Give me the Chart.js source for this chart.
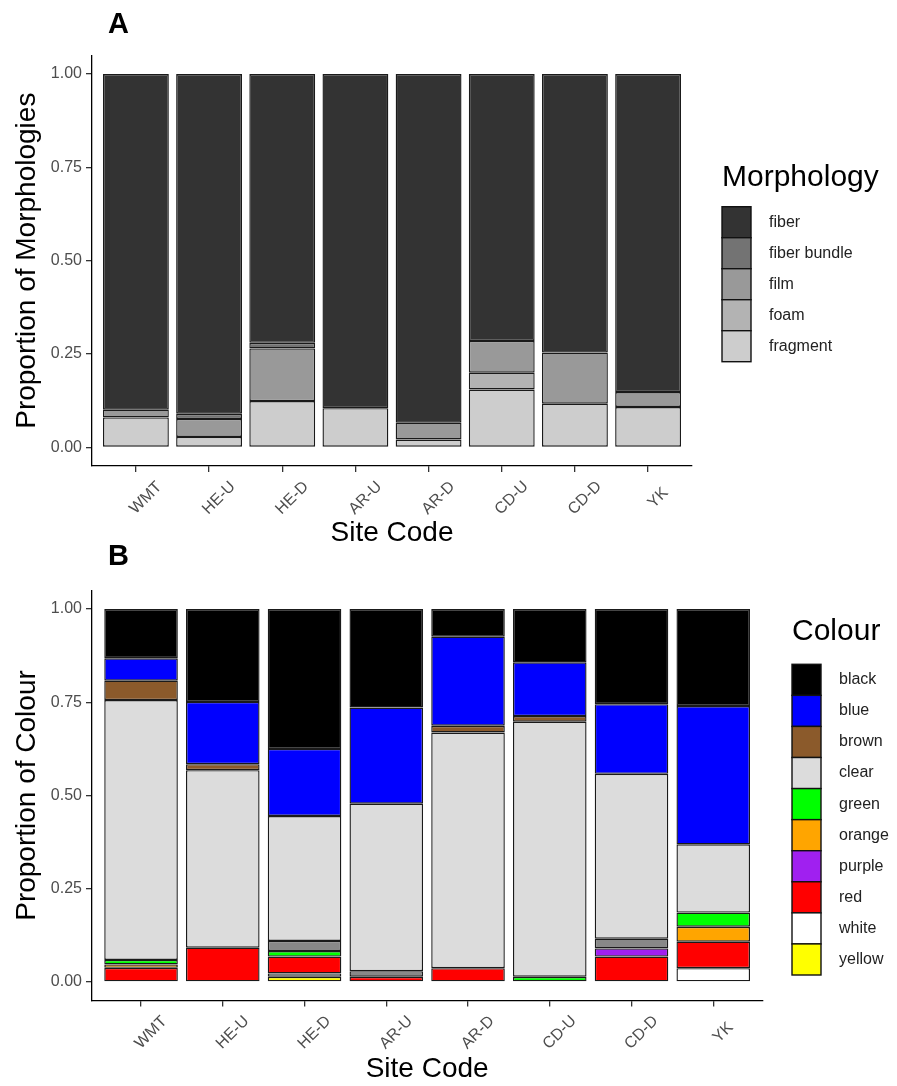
<!DOCTYPE html>
<html>
<head>
<meta charset="utf-8">
<title>Morphology and colour by site</title>
<script src="https://cdn.jsdelivr.net/npm/chart.js@4.4.1/dist/chart.umd.min.js"></script>
<style>
  body { margin: 0; background: #fff; }
  #wrap { position: relative; width: 897px; height: 1086px; }
  canvas { position: absolute; left: 0; }
  #chartA { top: 0; }
  #chartB { top: 536px; }
</style>
</head>
<body>
<div id="wrap">
  <canvas id="chartA" width="897" height="550"></canvas>
  <canvas id="chartB" width="897" height="550"></canvas>
</div>
<script>
const sites = ['WMT', 'HE-U', 'HE-D', 'AR-U', 'AR-D', 'CD-U', 'CD-D', 'YK'];
const yTicks = [0, 0.25, 0.5, 0.75, 1];

// panel A - morphology proportions
const fiber       = [0.899, 0.910, 0.720, 0.895, 0.934, 0.715, 0.746, 0.852];
const fiberBundle = [0.000, 0.014, 0.015, 0.000, 0.000, 0.000, 0.000, 0.000];
const film        = [0.021, 0.048, 0.141, 0.000, 0.045, 0.085, 0.137, 0.040];
const foam        = [0.000, 0.000, 0.000, 0.000, 0.000, 0.045, 0.000, 0.000];
const fragment    = [0.080, 0.028, 0.124, 0.105, 0.021, 0.155, 0.117, 0.108];

// panel B - colour proportions
const black  = [0.132, 0.249, 0.375, 0.264, 0.074, 0.143, 0.255, 0.260];
const blue   = [0.060, 0.167, 0.180, 0.258, 0.239, 0.144, 0.187, 0.371];
const brown  = [0.052, 0.016, 0.000, 0.000, 0.018, 0.015, 0.000, 0.000];
const clear  = [0.697, 0.476, 0.335, 0.449, 0.632, 0.684, 0.442, 0.183];
const gray   = [0.000, 0.000, 0.027, 0.015, 0.000, 0.000, 0.026, 0.000];
const green  = [0.012, 0.000, 0.015, 0.000, 0.000, 0.014, 0.000, 0.038];
const orange = [0.009, 0.000, 0.000, 0.000, 0.000, 0.000, 0.000, 0.040];
const purple = [0.000, 0.000, 0.000, 0.000, 0.000, 0.000, 0.022, 0.000];
const red    = [0.038, 0.092, 0.045, 0.014, 0.037, 0.000, 0.068, 0.071];
const white  = [0.000, 0.000, 0.009, 0.000, 0.000, 0.000, 0.000, 0.037];
const yellow = [0.000, 0.000, 0.014, 0.000, 0.000, 0.000, 0.000, 0.000];

const FONT = '"Liberation Sans", Arial, sans-serif';

function makeSet(label, values, color) {
    return {
        label: label,
        data: values.map((v, i) => ({ x: i + 1, y: v })),
        backgroundColor: color,
        borderColor: '#1a1a1a',
        borderWidth: 1.4,
        borderSkipped: false,
        barPercentage: 0.9,
        categoryPercentage: 1
    };
}

// site labels, legend and panel letter drawn on top of the chart
const overlay = {
    id: 'overlay',
    afterDraw(chart, args, opts) {
        const ctx = chart.ctx;
        const xs = chart.scales.x;
        ctx.save();
        ctx.font = '16px ' + FONT;
        ctx.fillStyle = '#4d4d4d';
        ctx.textAlign = 'center';
        ctx.textBaseline = 'middle';
        sites.forEach((s, i) => {
            ctx.save();
            ctx.translate(xs.getPixelForValue(i + 1) + 10, chart.chartArea.bottom + 32);
            ctx.rotate(-Math.PI / 4);
            ctx.fillText(s, 0, 0);
            ctx.restore();
        });

        ctx.textAlign = 'left';
        ctx.textBaseline = 'alphabetic';
        ctx.fillStyle = '#000';
        ctx.font = '30px ' + FONT;
        ctx.fillText(opts.title, opts.x, opts.titleY);

        ctx.lineWidth = 1.4;
        ctx.strokeStyle = '#111';
        ctx.font = '16px ' + FONT;
        ctx.textBaseline = 'middle';
        opts.items.forEach((name, k) => {
            const ds = chart.data.datasets.find(d => d.label === name);
            const top = opts.boxTop + k * opts.boxH;
            ctx.fillStyle = ds.backgroundColor;
            ctx.fillRect(opts.x, top, 29, opts.boxH);
            ctx.strokeRect(opts.x, top, 29, opts.boxH);
            ctx.fillStyle = '#222';
            ctx.fillText(name, opts.labelX, top + opts.boxH / 2);
        });

        ctx.textBaseline = 'alphabetic';
        ctx.fillStyle = '#000';
        ctx.font = 'bold 29px ' + FONT;
        ctx.fillText(opts.tag, 108, opts.tagY);
        ctx.restore();
    }
};

function buildOptions(yTitle, pad, xHeight, legend) {
    return {
        responsive: false,
        animation: false,
        layout: { padding: pad },
        plugins: {
            legend: { display: false },
            tooltip: { enabled: false },
            overlay: legend
        },
        scales: {
            x: {
                type: 'linear',
                stacked: true,
                offset: false,
                min: 0.4,
                max: 8.6,
                afterBuildTicks: s => { s.ticks = sites.map((_, i) => ({ value: i + 1 })); },
                afterFit: s => { s.height = xHeight; },
                ticks: { display: false },
                grid: { offset: false, drawOnChartArea: false, tickLength: 6, color: '#333', lineWidth: 1.3 },
                border: { color: '#000', width: 1.3 },
                title: {
                    display: true,
                    text: 'Site Code',
                    color: '#000',
                    font: { family: FONT, size: 28 },
                    padding: { top: 0, bottom: 0 }
                }
            },
            y: {
                stacked: true,
                min: -0.05,
                max: 1.05,
                afterBuildTicks: s => { s.ticks = yTicks.map(v => ({ value: v })); },
                afterFit: s => { s.width = 92; },
                ticks: {
                    color: '#4d4d4d',
                    font: { family: FONT, size: 16 },
                    padding: 4,
                    callback: v => v.toFixed(2)
                },
                grid: { drawOnChartArea: false, tickLength: 6, color: '#333', lineWidth: 1.3 },
                border: { color: '#000', width: 1.3 },
                title: {
                    display: true,
                    text: yTitle,
                    color: '#000',
                    font: { family: FONT, size: 28 },
                    padding: { top: 10, bottom: 0 }
                }
            }
        }
    };
}

new Chart(document.getElementById('chartA').getContext('2d'), {
    type: 'bar',
    data: {
        datasets: [
            makeSet('fragment', fragment, '#cdcdcd'),
            makeSet('foam', foam, '#b3b3b3'),
            makeSet('film', film, '#999999'),
            makeSet('fiber bundle', fiberBundle, '#737373'),
            makeSet('fiber', fiber, '#333333')
        ]
    },
    options: buildOptions('Proportion of Morphologies',
        { left: 0, right: 205, top: 55.4, bottom: 0 }, 84,
        { title: 'Morphology', x: 722, titleY: 186, boxTop: 206.7, boxH: 31, labelX: 769,
          items: ['fiber', 'fiber bundle', 'film', 'foam', 'fragment'], tag: 'A', tagY: 33 }),
    plugins: [overlay]
});

new Chart(document.getElementById('chartB').getContext('2d'), {
    type: 'bar',
    data: {
        datasets: [
            makeSet('yellow', yellow, '#ffff00'),
            makeSet('white', white, '#ffffff'),
            makeSet('red', red, '#ff0000'),
            makeSet('purple', purple, '#a020f0'),
            makeSet('orange', orange, '#ffa500'),
            makeSet('green', green, '#00ff00'),
            makeSet('gray', gray, '#888888'),
            makeSet('clear', clear, '#dcdcdc'),
            makeSet('brown', brown, '#8b5a2b'),
            makeSet('blue', blue, '#0000ff'),
            makeSet('black', black, '#000000')
        ]
    },
    options: buildOptions('Proportion of Colour',
        { left: 0, right: 134.7, top: 54.4, bottom: 0 }, 85.4,
        { title: 'Colour', x: 792, titleY: 104, boxTop: 128.3, boxH: 31.07, labelX: 839,
          items: ['black', 'blue', 'brown', 'clear', 'green', 'orange', 'purple', 'red', 'white', 'yellow'],
          tag: 'B', tagY: 29 }),
    plugins: [overlay]
});
</script>
</body>
</html>
